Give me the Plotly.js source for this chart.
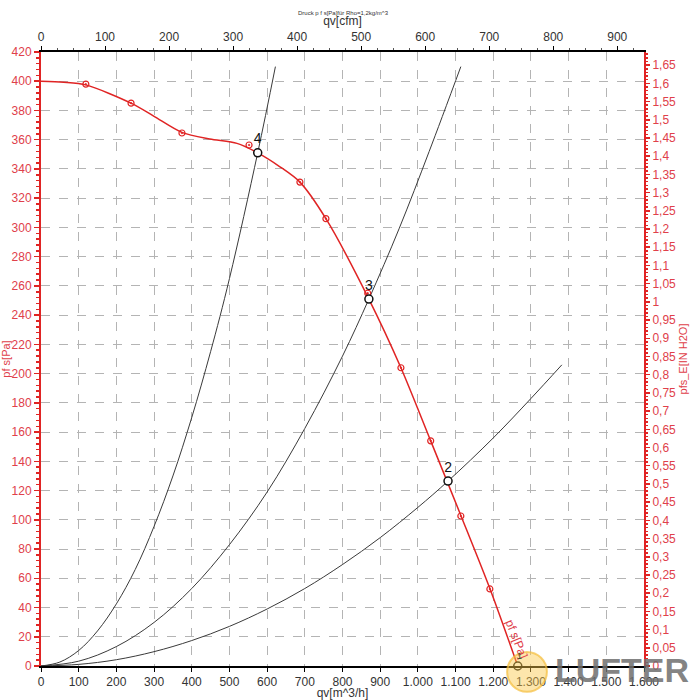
<!DOCTYPE html>
<html>
<head>
<meta charset="utf-8">
<script src="https://cdn.plot.ly/plotly-3.0.1.min.js"></script>
<style>html,body{margin:0;padding:0;background:#fff;}#chart{width:700px;height:700px;}</style>
</head>
<body>
<div id="chart"></div>
<script>
// Fan curve (line): qv [m^3/h], pfs [Pa]
const qv_fan = [0, 60, 119, 239, 300, 374, 448, 520, 575, 634, 687, 756, 870, 955, 1034, 1114, 1191, 1265];
const ps_fan = [400, 399.3, 397.5, 385, 376, 365, 360.5, 357.5, 351, 341.5, 331, 306, 251, 204, 154, 103, 53, 0];

// Measured points (red open circles)
const qv_meas = [119, 239, 374, 552, 687, 756, 867, 955, 1034, 1114, 1191];
const ps_meas = [398, 385, 364.6, 356.4, 331, 306, 255, 204, 154, 102.6, 52.7];

// Operating points
const qv_op = [1265, 1080, 870, 575];
const ps_op = [0, 126.5, 251, 351];
const op_labels = ['', '2', '3', '4'];

// System curves
const sysA_q = [0, 50, 100, 150, 200, 250, 300, 350, 400, 450, 500, 575, 622];
const sysA_p = [0, 2.7, 10.6, 24, 42.5, 66, 95.5, 130, 170, 215, 265, 351, 410];
const sysB_q = [0, 100, 200, 300, 400, 500, 600, 700, 800, 870, 950, 1030, 1114];
const sysB_p = [0, 3.3, 13.3, 29.8, 53, 83, 119, 162.5, 212, 251, 299, 352, 410];
const sysC_q = [0, 100, 200, 300, 400, 500, 600, 700, 800, 900, 1000, 1080, 1200, 1300, 1382];
const sysC_p = [0, 1.1, 4.3, 9.8, 17.4, 27.1, 39, 53, 69.4, 87.8, 108.5, 126.5, 156, 183, 206];

// Unit conversions
const M3H_PER_CFM = 1.699;
const PA_PER_INH2O = 249.089;
const xMax = 1600, yMax = 420;

const red = '#e02424';
const redTxt = '#e0404a';
const font = 'Liberation Sans, Arial, sans-serif';

const sysStyle = {mode: 'lines', line: {color: '#3a3a3a', width: 1, shape: 'spline'}, hoverinfo: 'skip', showlegend: false};

const traces = [
  Object.assign({x: sysA_q, y: sysA_p}, sysStyle),
  Object.assign({x: sysB_q, y: sysB_p}, sysStyle),
  Object.assign({x: sysC_q, y: sysC_p}, sysStyle),
  {x: qv_fan, y: ps_fan, mode: 'lines', line: {color: red, width: 1.5, shape: 'spline', smoothing: 0.8}, showlegend: false, hoverinfo: 'skip'},
  {x: qv_meas, y: ps_meas, mode: 'markers', marker: {symbol: 'circle-open-dot', size: 6, color: red, line: {width: 1.2, color: red}}, showlegend: false, hoverinfo: 'skip'},
  {x: qv_op, y: ps_op, mode: 'markers+text', text: op_labels, textposition: 'top center',
   textfont: {family: font, size: 14, color: '#111'},
   marker: {symbol: 'circle', size: 8, color: '#fff', line: {width: 1.5, color: '#111'}}, showlegend: false, hoverinfo: 'skip', cliponaxis: false},
  // secondary axes carrier (same fan curve in cfm / in H2O), invisible
  {x: qv_fan.map(v => v / M3H_PER_CFM), y: ps_fan.map(v => v / PA_PER_INH2O), xaxis: 'x2', yaxis: 'y2', mode: 'lines', opacity: 0, showlegend: false, hoverinfo: 'skip'}
];

const layout = {
  width: 700, height: 700,
  margin: {l: 41, r: 56, t: 52, b: 34},
  paper_bgcolor: '#fff', plot_bgcolor: '#fff',
  separators: ',.',
  showlegend: false,
  font: {family: font, size: 12, color: '#333'},
  title: {text: 'Druck p f s[Pa]für Rho=1,2kg/m^3', font: {family: font, size: 6, color: '#333'}, x: 0.49, xanchor: 'center', y: 0.985, yanchor: 'top'},
  xaxis: {
    range: [0, xMax], dtick: 100, tick0: 0, separatethousands: true,
    showgrid: true, gridcolor: '#b4b4b4', griddash: 'dash', gridwidth: 1,
    zeroline: false, showline: true, linecolor: '#000', linewidth: 2,
    ticks: 'outside', ticklen: 4, tickcolor: '#000',
    tickfont: {family: font, size: 12, color: '#333'},
    title: {text: 'qv[m^3/h]', font: {family: font, size: 12, color: '#333'}, standoff: 2},
    fixedrange: true
  },
  yaxis: {
    range: [0, yMax], dtick: 20, tick0: 0,
    showgrid: true, gridcolor: '#b4b4b4', griddash: 'dash', gridwidth: 1,
    zeroline: false, showline: true, linecolor: red, linewidth: 2,
    ticks: 'outside', ticklen: 5, tickcolor: red, tickwidth: 1.5,
    minor: {dtick: 4, ticks: 'outside', ticklen: 3, tickcolor: red, showgrid: false},
    tickfont: {family: font, size: 12, color: redTxt},
    title: {text: 'pf s[Pa]', font: {family: font, size: 11, color: redTxt}, standoff: 4},
    fixedrange: true
  },
  xaxis2: {
    overlaying: 'x', side: 'top', anchor: 'y',
    range: [0, xMax / M3H_PER_CFM], dtick: 100, tick0: 0,
    showgrid: false, zeroline: false, showline: true, linecolor: '#000', linewidth: 2,
    ticks: 'outside', ticklen: 4, tickcolor: '#000',
    minor: {dtick: 25, ticks: 'outside', ticklen: 2, tickcolor: '#555', showgrid: false},
    tickfont: {family: font, size: 12, color: '#333'},
    title: {text: 'qv[cfm]', font: {family: font, size: 12, color: '#333'}, standoff: 2},
    fixedrange: true
  },
  yaxis2: {
    overlaying: 'y', side: 'right', anchor: 'x',
    range: [0, yMax / PA_PER_INH2O], dtick: 0.05, tick0: 0,
    showgrid: false, zeroline: false, showline: true, linecolor: red, linewidth: 2,
    ticks: 'outside', ticklen: 4, tickcolor: red, tickwidth: 1.5,
    minor: {dtick: 0.01, ticks: 'outside', ticklen: 2, tickcolor: red, showgrid: false},
    tickfont: {family: font, size: 12, color: redTxt},
    title: {text: 'pfs_E[IN H2O]', font: {family: font, size: 11, color: redTxt}, standoff: 4},
    fixedrange: true
  },
  shapes: [
    {type: 'circle', xref: 'paper', yref: 'paper', x0: 0.773, x1: 0.839, y0: -0.042, y1: 0.023,
     fillcolor: 'rgba(250,200,70,0.45)', line: {color: 'rgba(245,190,60,0.7)', width: 2}, layer: 'above'}
  ],
  annotations: [
    {x: 1263, y: 18, xref: 'x', yref: 'y', text: 'pf s[Pa]', showarrow: false, textangle: 68,
     font: {family: font, size: 12, color: redTxt}},
    {x: 1270, y: 7, xref: 'x', yref: 'y', text: '1', showarrow: false,
     font: {family: font, size: 9, color: '#2a5a2a'}},
    {x: 0.963, y: -0.006, xref: 'paper', yref: 'paper', text: '<b>LUFTER</b>', showarrow: false,
     xanchor: 'center', yanchor: 'middle',
     font: {family: font, size: 34, color: 'rgba(110,110,110,0.85)'}}
  ]
};

Plotly.newPlot('chart', traces, layout, {staticPlot: true, displayModeBar: false});
</script>
</body>
</html>
